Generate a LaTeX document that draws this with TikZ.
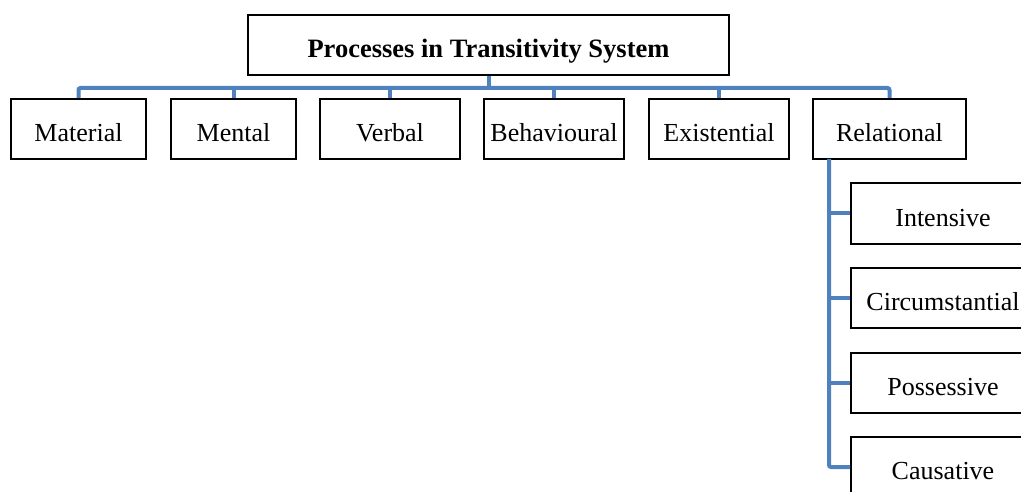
\documentclass[tikz,border=0pt]{standalone}
\usepackage{fontspec}
\setmainfont{Liberation Serif}
\begin{document}
\begin{tikzpicture}[x=1pt,y=-1pt,
  box/.style={draw=black,line width=2pt,fill=white,inner sep=0pt,anchor=center,text height=25pt,text depth=0pt,font=\fontsize{26}{30}\selectfont},
  conn/.style={draw={rgb,255:red,79;green,129;blue,189},line width=4pt,rounded corners=2pt}]
\clip (0,0) rectangle (1021,492);
\useasboundingbox (0,0) rectangle (1021,492);
\node[box,minimum width=481pt,minimum height=60pt,font=\fontsize{26.5}{30}\selectfont\bfseries] (top) at (488.5,45) {Processes in Transitivity System};
\node[box,minimum width=135pt,minimum height=60pt] (mat) at (78.5,129) {Material};
\node[box,minimum width=125pt,minimum height=60pt] (men) at (233.5,129) {Mental};
\node[box,minimum width=140pt,minimum height=60pt] (ver) at (390,129) {Verbal};
\node[box,minimum width=140pt,minimum height=60pt] (beh) at (554,129) {Behavioural};
\node[box,minimum width=140pt,minimum height=60pt] (exi) at (719,129) {Existential};
\node[box,minimum width=153pt,minimum height=60pt] (rel) at (889.5,129) {Relational};
\node[box,minimum width=184pt,minimum height=61pt] (int) at (943,213.5) {Intensive};
\node[box,minimum width=184pt,minimum height=60pt] (cir) at (943,298) {Circumstantial};
\node[box,minimum width=184pt,minimum height=60pt] (pos) at (943,383) {Possessive};
\node[box,minimum width=184pt,minimum height=60pt] (cau) at (943,467) {Causative};
\coordinate (bus) at (0,88);
\coordinate (stemtop) at (829,159);
\draw[conn] (mat.north) -- (mat.north |- bus) -- (rel.north |- bus) -- (rel.north);
\draw[conn] (top.south) -- (top.south |- bus);
\draw[conn] (men.north) -- (men.north |- bus);
\draw[conn] (ver.north) -- (ver.north |- bus);
\draw[conn] (beh.north) -- (beh.north |- bus);
\draw[conn] (exi.north) -- (exi.north |- bus);
\draw[conn] (stemtop) |- (cau.west);
\draw[conn] (stemtop |- int.west) -- (int.west);
\draw[conn] (stemtop |- cir.west) -- (cir.west);
\draw[conn] (stemtop |- pos.west) -- (pos.west);
\end{tikzpicture}
\end{document}
